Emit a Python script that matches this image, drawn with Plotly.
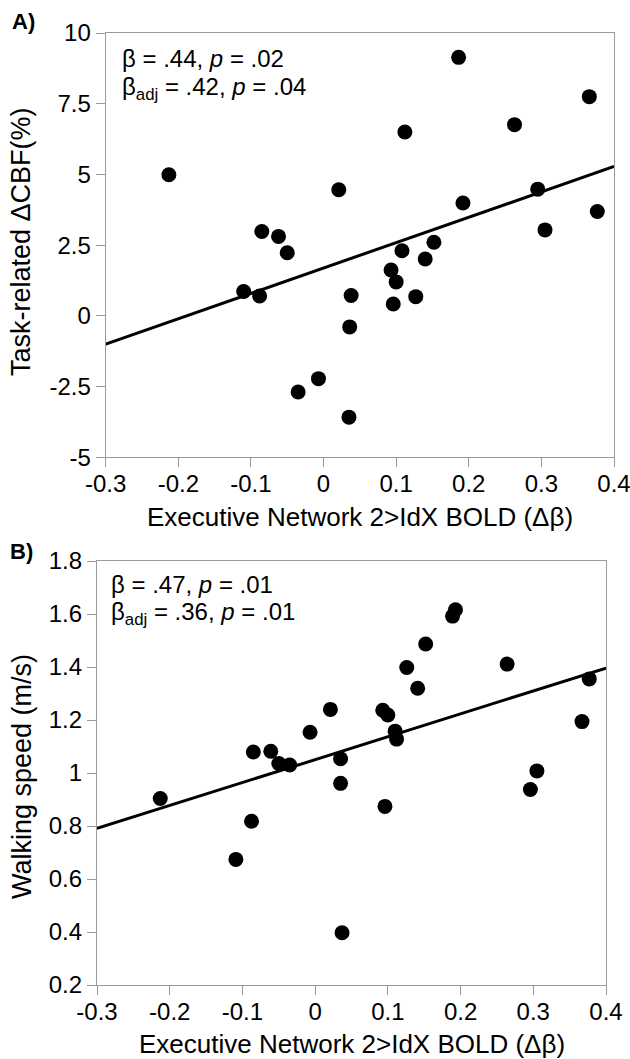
import plotly.graph_objects as go

# ---------------- data ----------------
x_a = [-0.213, -0.110, -0.088, -0.085, -0.062, -0.050, -0.035, -0.007, 0.021, 0.036,
       0.038, 0.035, 0.093, 0.100, 0.096, 0.108, 0.112, 0.127, 0.140, 0.152,
       0.186, 0.192, 0.263, 0.295, 0.305, 0.366, 0.377]
cbf = [4.99, 0.86, 0.70, 2.98, 2.81, 2.23, -2.69, -2.22, 4.46, -0.39,
       0.72, -3.58, 1.62, 1.20, 0.42, 2.30, 6.50, 0.68, 2.01, 2.60,
       9.14, 3.99, 6.76, 4.48, 3.04, 7.75, 3.69]

x_b = [-0.213, -0.109, -0.0875, -0.085, -0.061, -0.050, -0.035, -0.007, 0.021, 0.035,
       0.035, 0.037, 0.093, 0.100, 0.096, 0.110, 0.112, 0.126, 0.141, 0.152,
       0.189, 0.193, 0.264, 0.296, 0.305, 0.367, 0.377]
speed = [0.904, 0.674, 0.818, 1.079, 1.082, 1.036, 1.030, 1.154, 1.240, 1.054,
         0.961, 0.397, 1.237, 1.219, 0.874, 1.158, 1.128, 1.398, 1.320, 1.487,
         1.592, 1.616, 1.411, 0.938, 1.008, 1.194, 1.355]

fit_x = [-0.3, 0.4]
fit_cbf = [-1.0, 5.28]
fit_speed = [0.791, 1.396]

x_ticks = [-0.3, -0.2, -0.1, 0, 0.1, 0.2, 0.3, 0.4]
x_ticklabels = ["-0.3", "-0.2", "-0.1", "0", "0.1", "0.2", "0.3", "0.4"]
cbf_ticks = [-5, -2.5, 0, 2.5, 5, 7.5, 10]
cbf_ticklabels = ["-5", "-2.5", "0", "2.5", "5", "7.5", "10"]
speed_ticks = [0.2, 0.4, 0.6, 0.8, 1.0, 1.2, 1.4, 1.6, 1.8]
speed_ticklabels = ["0.2", "0.4", "0.6", "0.8", "1", "1.2", "1.4", "1.6", "1.8"]

x_title = "Executive Network 2>IdX BOLD (Δβ)"
cbf_title = "Task-related ΔCBF(%)"
speed_title = "Walking speed (m/s)"
stats_a = ["β = .44, <i>p</i> = .02", "β<sub>adj</sub> = .42, <i>p</i> = .04"]
stats_b = ["β = .47, <i>p</i> = .01", "β<sub>adj</sub> = .36, <i>p</i> = .01"]

# ---------------- layout helpers ----------------
W, H = 630, 1059
FONT = "Liberation Sans, Arial, Helvetica, sans-serif"
GRAY = "#9a9a9a"


def px(x):
    return x / W


def py(y):
    return 1 - y / H


fig = go.Figure()

fig.add_trace(go.Scatter(x=x_a, y=cbf, mode="markers", xaxis="x", yaxis="y",
                         marker=dict(size=15, color="black"), showlegend=False))
fig.add_trace(go.Scatter(x=fit_x, y=fit_cbf, mode="lines", xaxis="x", yaxis="y",
                         line=dict(color="black", width=3), showlegend=False))
fig.add_trace(go.Scatter(x=x_b, y=speed, mode="markers", xaxis="x2", yaxis="y2",
                         marker=dict(size=15, color="black"), showlegend=False))
fig.add_trace(go.Scatter(x=fit_x, y=fit_speed, mode="lines", xaxis="x2", yaxis="y2",
                         line=dict(color="black", width=3), showlegend=False))

axis_common = dict(showgrid=False, zeroline=False, showline=True, mirror=True,
                   linecolor=GRAY, linewidth=1.3, ticks="outside", ticklen=9,
                   tickcolor=GRAY, tickwidth=1.3, automargin=False,
                   ticklabeloverflow="allow",
                   tickfont=dict(family=FONT, size=24, color="black"))
x_extra = dict(ticklabelstandoff=-4)

fig.update_layout(
    template="none",
    width=W, height=H,
    margin=dict(l=0, r=0, t=0, b=0, pad=0, autoexpand=False),
    paper_bgcolor="white", plot_bgcolor="white",
    font=dict(family=FONT, color="black"),
    xaxis=dict(domain=[px(105.7), px(614)], anchor="y", range=[-0.3, 0.4],
               tickvals=x_ticks, ticktext=x_ticklabels, **axis_common, **x_extra),
    yaxis=dict(domain=[py(457.3), py(33)], anchor="x", range=[-5, 10],
               tickvals=cbf_ticks, ticktext=cbf_ticklabels, **axis_common),
    xaxis2=dict(domain=[px(97), px(606)], anchor="y2", range=[-0.3, 0.4],
                tickvals=x_ticks, ticktext=x_ticklabels, **axis_common, **x_extra),
    yaxis2=dict(domain=[py(985), py(561)], anchor="x2", range=[0.2, 1.8],
                tickvals=speed_ticks, ticktext=speed_ticklabels, **axis_common),
)

ann = []


def add_text(text, x, y, size, xanchor="center", yanchor="middle", angle=0, bold=False):
    if bold:
        text = "<b>" + text + "</b>"
    ann.append(dict(text=text, x=px(x), y=py(y), xref="paper", yref="paper",
                    xanchor=xanchor, yanchor=yanchor, textangle=angle, showarrow=False,
                    font=dict(family=FONT, size=size, color="black")))


# panel labels
add_text("A)", 23, 21, 22, bold=True)
add_text("B)", 21, 551, 22, bold=True)
# axis titles
add_text(cbf_title, 21, 242, 27, angle=-90)
add_text(speed_title, 21.5, 776.5, 27, angle=-90)
add_text(x_title, 360, 517, 26)
add_text(x_title, 351.5, 1044, 26)
# statistics
add_text(stats_a[0], 120, 58, 24, xanchor="left")
add_text(stats_a[1], 120, 89, 24, xanchor="left")
add_text(stats_b[0], 109, 584, 24, xanchor="left")
add_text(stats_b[1], 109, 613, 24, xanchor="left")

fig.update_layout(annotations=ann)
fig.write_html("out.html", config={"displayModeBar": False},
               post_script="document.body.style.margin='0';document.body.style.overflow='hidden';")
